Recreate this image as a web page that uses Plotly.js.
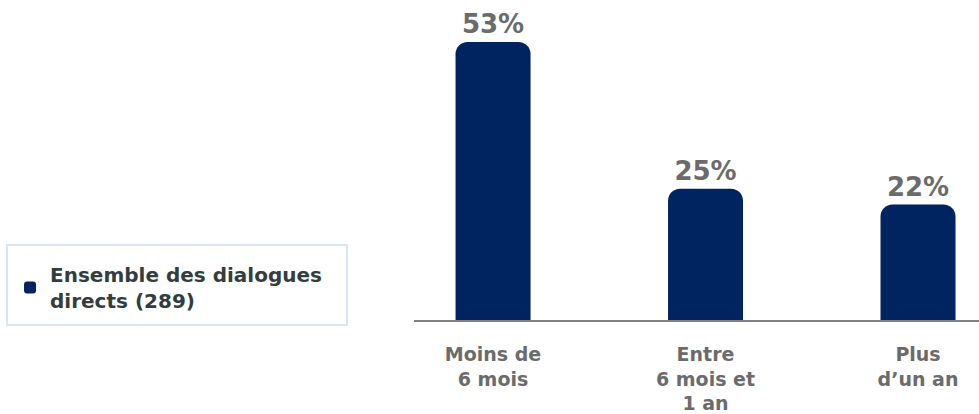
<!DOCTYPE html>
<html>
<head>
<meta charset="utf-8">
<script src="https://cdn.plot.ly/plotly-3.0.1.min.js"></script>
<style>html,body{margin:0;padding:0;background:#fff;}#chart{width:979px;height:414px;}</style>
</head>
<body>
<div id="chart"></div>
<script>
const categories = ["Moins de<br>6 mois", "Entre<br>6 mois et<br>1 an", "Plus<br>d’un an"];
const values = [53, 25, 22];
const valueLabels = ["53%", "25%", "22%"];
const seriesName = "Ensemble des dialogues<br>directs (289)";

const FONT = "'DejaVu Sans', sans-serif";

const trace = {
  type: "bar",
  x: [0, 1, 2],
  y: values,
  name: seriesName,
  text: valueLabels,
  textposition: "outside",
  cliponaxis: false,
  textfont: {family: FONT, size: 26, color: "#6b6b6b", weight: 700},
  marker: {color: "#00245f", cornerradius: 12},
  width: 0.353,
  showlegend: true,
  hoverinfo: "none"
};

const layout = {
  width: 979, height: 414,
  margin: {l: 414, r: 0, t: 0, b: 94},
  paper_bgcolor: "#ffffff",
  plot_bgcolor: "#ffffff",
  showlegend: true,
  font: {family: FONT},
  xaxis: {
    range: [-0.372, 2.287],
    tickvals: [0, 1, 2],
    ticktext: categories,
    showgrid: false, zeroline: false,
    showline: true, linecolor: "#808080", linewidth: 2,
    ticks: "", ticklabelstandoff: 16,
    tickfont: {family: FONT, size: 19, color: "#6b6b6b", weight: 700},
    fixedrange: true
  },
  yaxis: {
    range: [0, 61],
    visible: false, showgrid: false, zeroline: false,
    fixedrange: true
  },
  shapes: [{
    type: "rect", xref: "paper", yref: "paper",
    x0: -0.7204, x1: -0.1186, y0: -0.0156, y1: 0.234,
    line: {color: "#d8e6ef", width: 2}, fillcolor: "rgba(0,0,0,0)", layer: "below"
  }],
  legend: {
    x: -0.715, y: 0.203, xanchor: "left", yanchor: "top",
    borderwidth: 0,
    bgcolor: "rgba(0,0,0,0)",
    font: {family: FONT, size: 20, color: "#333d3d", weight: 700},
    itemwidth: 30
  }
};

Plotly.newPlot("chart", [trace], layout, {displayModeBar: false, staticPlot: true});
</script>
</body>
</html>
